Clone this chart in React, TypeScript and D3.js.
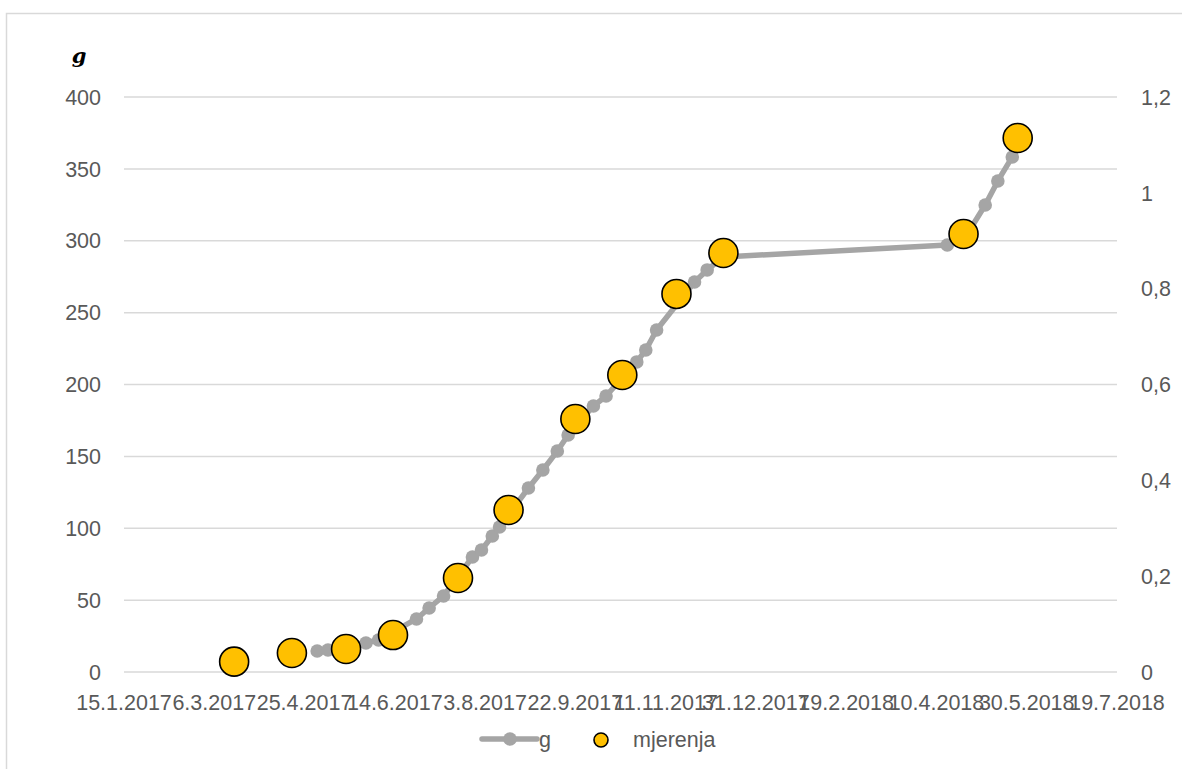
import React from "react";
import * as d3 from "d3";

// ---- data ----
const gDates = [
  "2017-05-02", "2017-05-08", "2017-05-29", "2017-06-05", "2017-06-26", "2017-07-03",
  "2017-07-11", "2017-07-27", "2017-08-01", "2017-08-07", "2017-08-11", "2017-08-27",
  "2017-09-04", "2017-09-12", "2017-09-18", "2017-10-02", "2017-10-09", "2017-10-26",
  "2017-10-31", "2017-11-06", "2017-11-27", "2017-12-04", "2017-12-13", "2018-04-16",
  "2018-04-25", "2018-05-07", "2018-05-14", "2018-05-22", "2018-05-25",
];
const gValues = [
  14.6, 15.3, 20.2, 22.3, 36.9, 44.5,
  52.9, 80, 84.9, 94.6, 100.9, 128,
  140.5, 153.7, 164.9, 185, 192, 215.7,
  224, 237.9, 271.3, 279.7, 288.7, 297,
  300.5, 324.9, 341.6, 358.3, 366.6,
];
const mjerenjaDates = [
  "2017-03-17", "2017-04-18", "2017-05-18", "2017-06-13", "2017-07-19", "2017-08-16",
  "2017-09-22", "2017-10-18", "2017-11-17", "2017-12-13", "2018-04-25", "2018-05-25",
];
const mjerenjaValues = [7.2, 13.2, 16, 25.7, 65.4, 112.7, 176, 206.6, 263, 291.5, 304.7, 371.5];

const leftTicks = [0, 50, 100, 150, 200, 250, 300, 350, 400];
const rightTicks = [0, 0.2, 0.4, 0.6, 0.8, 1, 1.2];
const xStart = "2017-01-15";
const xEnd = "2018-07-19";
const xStepDays = 50;

const parse = d3.utcParse("%Y-%m-%d");

export default function App() {
  const W = 1182, H = 769;
  const left = 124, right = 1117, top = 97, bottom = 672;
  const x = d3.scaleUtc().domain([parse(xStart)!, parse(xEnd)!]).range([left, right]);
  const y = d3.scaleLinear().domain([0, 400]).range([bottom, top]);
  const y2 = d3.scaleLinear().domain([0, 1.2]).range([bottom, top]);
  const totalDays = d3.utcDay.count(parse(xStart)!, parse(xEnd)!);
  const xTicks = d3.range(0, totalDays + 1, xStepDays).map((d) => d3.utcDay.offset(parse(xStart)!, d));
  const fmtX = (d: Date) => `${d.getUTCDate()}.${d.getUTCMonth() + 1}.${d.getUTCFullYear()}`;
  const fmtR = (v: number) => String(+v.toFixed(1)).replace(".", ",");

  const gData = gDates.map((d, i) => ({ x: x(parse(d)!), y: y(gValues[i]) }));
  const mData = mjerenjaDates.map((d, i) => ({ x: x(parse(d)!), y: y(mjerenjaValues[i]) }));
  const line = d3.line<{ x: number; y: number }>().x((d) => d.x).y((d) => d.y);

  const font = "'Liberation Sans', Arial, sans-serif";
  const txt = "#595959";
  const fs = 21.5;

  return (
    <svg width={W} height={H} style={{ position: "absolute", left: 0, top: 0, background: "#fff" }} fontFamily={font}>
      <rect x={6.5} y={13.5} width={W + 10} height={H + 10} fill="#fff" stroke="#d9d9d9" strokeWidth={1.5} />
      {leftTicks.map((t) => (
        <line key={"g" + t} x1={left} x2={right} y1={y(t)} y2={y(t)} stroke="#d9d9d9" strokeWidth={1.5} />
      ))}
      {leftTicks.map((t) => (
        <text key={"l" + t} x={101} y={y(t)} dy="0.36em" textAnchor="end" fontSize={fs} fill={txt}>{t}</text>
      ))}
      {rightTicks.map((t) => (
        <text key={"r" + t} x={1141} y={y2(t)} dy="0.36em" textAnchor="start" fontSize={fs} fill={txt}>{fmtR(t)}</text>
      ))}
      {xTicks.map((t, i) => (
        <text key={"x" + i} x={x(t)} y={710} textAnchor="middle" fontSize={fs} fill={txt}>{fmtX(t)}</text>
      ))}
      <text x={79} y={63} textAnchor="middle" fontSize={21} fontWeight="bold" fontStyle="italic" fontFamily="'DejaVu Serif', serif" fill="#000">g</text>

      <path d={line(gData)!} fill="none" stroke="#a5a5a5" strokeWidth={5.5} strokeLinejoin="round" strokeLinecap="round" />
      {gData.map((p, i) => (
        <circle key={"gp" + i} cx={p.x} cy={p.y} r={6.8} fill="#a5a5a5" />
      ))}
      {mData.map((p, i) => (
        <circle key={"mp" + i} cx={p.x} cy={p.y} r={14.5} fill="#ffc000" stroke="#000" strokeWidth={1.6} />
      ))}

      {/* legend */}
      <line x1={482} x2={537} y1={739} y2={739} stroke="#a5a5a5" strokeWidth={5.5} strokeLinecap="round" />
      <circle cx={510} cy={739} r={6.8} fill="#a5a5a5" />
      <text x={539} y={747} fontSize={fs} fill={txt}>g</text>
      <circle cx={601} cy={740} r={7} fill="#ffc000" stroke="#000" strokeWidth={1.6} />
      <text x={633} y={747} fontSize={fs} fill={txt}>mjerenja</text>
    </svg>
  );
}
